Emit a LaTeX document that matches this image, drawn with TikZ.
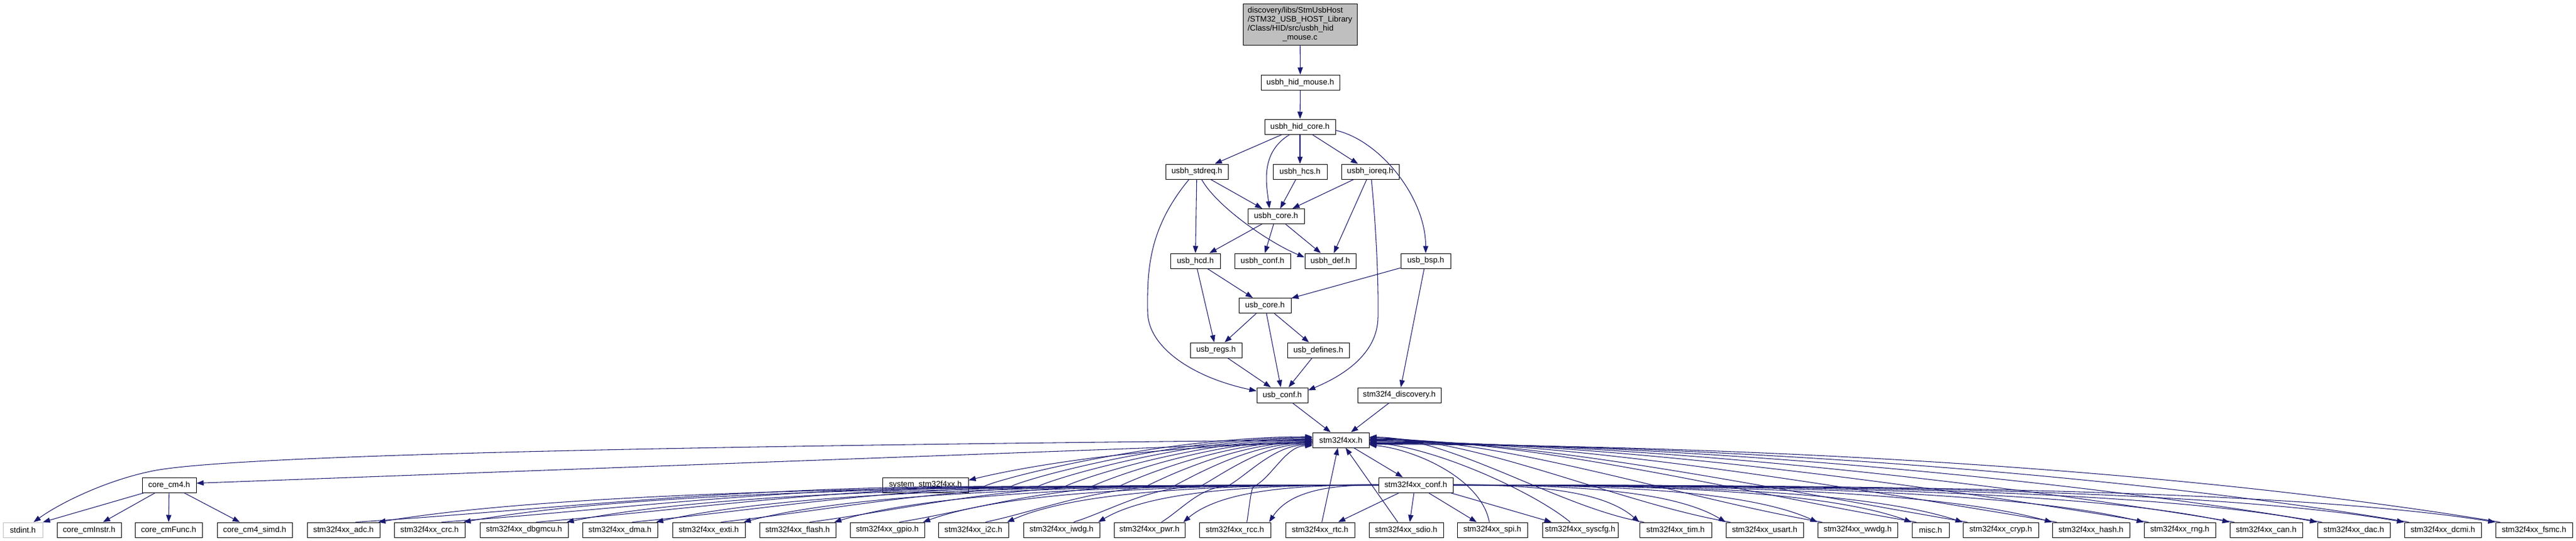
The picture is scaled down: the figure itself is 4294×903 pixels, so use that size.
\documentclass[tikz,border=0pt]{standalone}
\usepackage{fontspec}
\setmainfont{Liberation Sans}
\usetikzlibrary{arrows.meta,calc}

\definecolor{edgeblue}{HTML}{191970}
\definecolor{nodegray}{HTML}{BFBFBF}

\tikzset{
  hdr/.style={draw=black, fill=white, line width=0.75pt, minimum height=18.75pt, inner sep=1pt,
    font=\fontsize{10}{11.25}\selectfont},
  dep/.style={draw=edgeblue, line width=0.8pt, -{Triangle[length=9pt,width=6.5pt]}},
}

\begin{document}
\begin{tikzpicture}[x=0.75pt,y=-0.75pt]

\fill[white] (0,0) rectangle (4294,903);
\useasboundingbox (0,0) rectangle (4294,903);

\newcommand\periy{884.5}

\node[hdr, fill=nodegray, minimum width=142.5pt, minimum height=51.75pt] (mousec) at (2167,40.5)
  {\begin{tabular}{@{}l@{}}discovery/libs/StmUsbHost\\/STM32\_USB\_HOST\_Library\\/Class/HID/src/usbh\_hid\\\multicolumn{1}{@{}c@{}}{\_mouse.c}\end{tabular}};

\foreach \nm/\cx/\cy/\bw/\lbl in {
  mouseh/2167.5/137.5/131/usbh\_hid\_mouse.h,
  hidcore/2167/211.5/118/usbh\_hid\_core.h,
  stdreq/1995/286.5/104/usbh\_stdreq.h,
  hcs/2167/286.5/90/usbh\_hcs.h,
  ioreq/2284/286.5/96/usbh\_ioreq.h,
  usbhcore/2127/361/94/usbh\_core.h,
  hcd/1992.5/435.5/83/usb\_hcd.h,
  usbhconf/2104.5/435.5/93/usbh\_conf.h,
  usbhdef/2217.5/435.5/85/usbh\_def.h,
  bsp/2376.5/435.5/83/usb\_bsp.h,
  usbcore/2108.5/510/87/usb\_core.h,
  regs/2027/584.5/86/usb\_regs.h,
  defines/2197.5/584.5/103/usb\_defines.h,
  usbconf/2137.5/659.5/85/usb\_conf.h,
  disco/2332.5/659.5/139/stm32f4\_discovery.h,
  stm/2235/734.5/94/stm32f4xx.h,
  cm4/282/809.5/90/core\_cm4.h,
  system/1542.5/809.5/143/system\_stm32f4xx.h,
  conf/2360/809.5/124/stm32f4xx\_conf.h,
  cminstr/148.5/\periy/107/core\_cmInstr.h,
  cmfunc/281/\periy/112/core\_cmFunc.h,
  simd/424.5/\periy/125/core\_cm4\_simd.h}
  \node[hdr, minimum width=\bw*0.75pt] (\nm) at (\cx,\cy) {\lbl};

\node[hdr, draw=nodegray, minimum width=49.5pt] (stdint) at (38,\periy) {stdint.h};

\foreach \hd/\xa/\xb in {rtc/2143/2258, sdio/2282/2406, spi/2429/2546, syscfg/2571/2697}
  \node[hdr, minimum width={(\xb-\xa)*0.75pt}] (\hd) at ({(\xa+\xb)/2},\periy) {stm32f4xx\_\hd.h};

% straight includes
\draw[dep] (mousec) -- (mouseh);
\foreach \ea/\eb in {mouseh/hidcore, hidcore/stdreq, hidcore/hcs, hidcore/ioreq, stdreq/usbhcore, stdreq/hcd,
  hcs/usbhcore, ioreq/usbhcore, ioreq/usbhdef, usbhcore/hcd, usbhcore/usbhconf, usbhcore/usbhdef,
  hcd/usbcore, hcd/regs, bsp/usbcore, bsp/disco, usbcore/regs, usbcore/usbconf, usbcore/defines,
  regs/usbconf, defines/usbconf, usbconf/stm, disco/stm, stm/conf, cm4/cminstr, cm4/cmfunc, cm4/simd}
  \draw[dep] (\ea) -- (\eb);

% curved includes
\draw[dep] ($(hidcore.south)+(-17,0)$) .. controls +(-50,30) and +(-5,-40) .. ($(usbhcore.north)+(-11,0)$);
\draw[dep] ($(hidcore.east)+(0,6)$) .. controls +(74,17) and +(0,-93) .. (bsp.north);
\draw[dep] ($(stdreq.south)+(8,0)$) .. controls +(25,45) and +(-60,-25) .. ($(usbhdef.west)+(0,-6)$);
\draw[dep] ($(stdreq.south)+(-13,0)$) .. controls +(-67,81) and +(-1,-70) .. (1913,520)
  .. controls +(0,60) and +(-105,-22) .. ($(usbconf.west)+(0,-7)$);
\draw[dep] ($(ioreq.south)+(2,0)$) .. controls +(8,81) and +(1,-60) .. (2297,530)
  .. controls +(-1,60) and +(60,-25) .. ($(usbconf.east)+(0,-8)$);

\draw[dep] ($(stm.west)+(0,3)$) -- ($(cm4.east)+(0,-3)$);
\draw[dep] (stm.west) .. controls +(-1088,10) and +(140,-25) .. (260,785)
  .. controls +(-80,15) and +(44,-32) .. ($(stdint.north)+(18,0)$);
\draw[dep] ($(cm4.south west)+(4,0)$) -- (stdint.north east);
\draw[dep] ($(stm.west)+(0,5)$) .. controls +(-290,5) and +(90,-22) .. ($(system.east)+(0,-8)$);

% peripheral drivers left of the conf header
\foreach \hd/\xa/\xb [count=\i] in {adc/512/633, crc/657/775, dbgmcu/800/947, dma/971/1096, exti/1121/1242,
  flash/1266/1393, gpio/1417/1541, i2c/1564/1681, iwdg/1706/1833, pwr/1857/1975, rcc/1999/2118}
{
  \node[hdr, minimum width={(\xb-\xa)*0.75pt}] (\hd) at ({(\xa+\xb)/2},\periy) {stm32f4xx\_\hd.h};
  \pgfmathsetmacro\dst{2298-\xb}
  \pgfmathsetmacro\sx{(\xa+\xb)/2+20}
  \pgfmathsetmacro\vx{1640+45*(\i-1)}
  \draw[dep] (conf.west) .. controls +({-0.4*\dst},0) and +({0.2*\dst},-55) .. ($(\hd.north east)+(-3,0)$);
  \draw[dep] ($(\hd.north)+(20,0)$) .. controls +({0.3*(\vx-\sx)},-20) and +({-0.4*(\vx-\sx)},0) .. (\vx,812)
    .. controls +(30,-15) and +({-0.45*(2188-\vx)},0) .. ($(stm.west)+(0,{1.5*\i-7})$);
}

% the ones just below
\draw[dep] ($(conf.south west)+(35,0)$) -- ($(rtc.north east)+(-28,0)$);
\draw[dep] ($(rtc.north)+(3,0)$) -- ($(stm.south)+(-5,0)$);
\draw[dep] ($(conf.south)+(-3,0)$) -- ($(sdio.north)+(6,0)$);
\draw[dep] ($(sdio.north)+(-14,0)$) -- ($(stm.south)+(8,0)$);
\draw[dep] ($(conf.south)+(21,0)$) -- ($(spi.north west)+(33,0)$);
\draw[dep] ($(spi.north west)+(54,0)$) .. controls +(-13,-72) and +(78,8) .. ($(stm.east)+(0,8)$);
\draw[dep] ($(conf.south east)+(-5,0)$) -- ($(syscfg.north west)+(16,0)$);
\draw[dep] ($(syscfg.north west)+(47,0)$) .. controls +(-60,-50) and +(110,8) .. ($(stm.east)+(0,4)$);

% peripheral drivers right of the conf header
\foreach \hd/\xa/\xb/\lbl [count=\i] in {tim/2733/2853/stm32f4xx\_tim.h, usart/2877/3006/stm32f4xx\_usart.h,
  wwdg/3030/3163/stm32f4xx\_wwdg.h, misc/3187/3249/misc.h, cryp/3272/3398/stm32f4xx\_cryp.h,
  hash/3421/3550/stm32f4xx\_hash.h, rng/3574/3693/stm32f4xx\_rng.h, can/3717/3838/stm32f4xx\_can.h,
  dac/3863/3984/stm32f4xx\_dac.h, dcmi/4008/4136/stm32f4xx\_dcmi.h, fsmc/4160/4288/stm32f4xx\_fsmc.h}
{
  \node[hdr, minimum width={(\xb-\xa)*0.75pt}] (\hd) at ({(\xa+\xb)/2},\periy) {\lbl};
  \pgfmathsetmacro\dst{\xa-2422}
  \pgfmathsetmacro\dsu{\xa+8-2282}
  \draw[dep] (conf.east) .. controls +({0.4*\dst},0) and +({-0.2*\dst},-55) .. (\hd.north west);
  \draw[dep] ($(\hd.north west)+(8,0)$) .. controls +({-0.3*\dsu},{-0.05*\dsu}) and +({0.3*\dsu},0) .. ($(stm.east)+(0,{1.2*\i-6})$);
}

\end{tikzpicture}
\end{document}
